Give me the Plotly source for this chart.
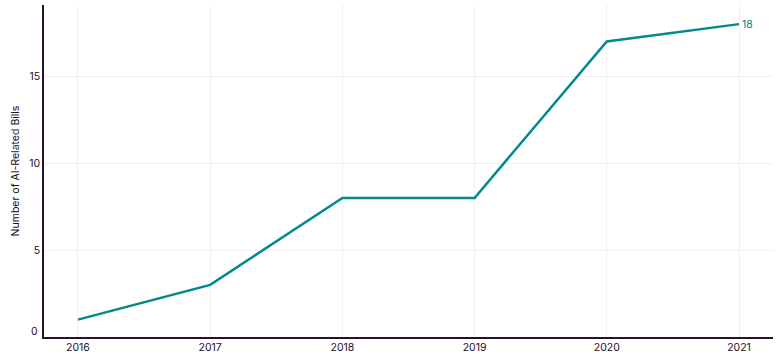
import plotly.graph_objects as go

years = [2016, 2017, 2018, 2019, 2020, 2021]
bills = [1, 3, 8, 8, 17, 18]
y_ticks = [0, 5, 10, 15]

line_color = "#008a8c"
text_color = "#1e0f1e"
font_family = "Inter, Liberation Sans, sans-serif"

fig = go.Figure()
fig.add_trace(go.Scatter(
    x=years, y=bills, mode="lines",
    line=dict(color=line_color, width=2.5),
    showlegend=False, hoverinfo="x+y",
))
fig.add_annotation(
    x=years[-1], y=bills[-1], text=str(bills[-1]), showarrow=False,
    xanchor="left", yanchor="middle", xshift=1,
    font=dict(color="#007f82", size=10.5, family=font_family),
)
# the zero label sits slightly above the x axis line
fig.add_annotation(
    xref="paper", x=0, y=y_ticks[0], text=str(y_ticks[0]), showarrow=False,
    xanchor="right", yanchor="middle", xshift=-4, yshift=6,
    font=dict(color=text_color, size=10.5, family=font_family),
)

fig.update_layout(
    width=782, height=358,
    margin=dict(l=44, r=9, t=5, b=21),
    paper_bgcolor="white", plot_bgcolor="white",
    font=dict(family=font_family, size=10.5, color=text_color),
    xaxis=dict(
        range=[2015.743, 2021.257], tickvals=years, ticktext=[str(y) for y in years],
        showgrid=True, gridcolor="#f0f0f0", gridwidth=1,
        showline=True, linecolor="#2b0f2b", linewidth=1.5,
        ticks="", zeroline=False, tickfont=dict(size=10.5),
    ),
    yaxis=dict(
        range=[0, 19.1], tickvals=y_ticks, ticktext=["", "5", "10", "15"],
        showgrid=True, gridcolor="#f0f0f0", gridwidth=1,
        showline=True, linecolor="#2b0f2b", linewidth=1.5,
        ticks="", zeroline=False, tickfont=dict(size=10.5),
        title=dict(text="Number of AI-Related Bills", font=dict(size=10.5), standoff=8),
    ),
)

fig.write_html(
    "out.html",
    config={"displayModeBar": False},
    post_script="document.body.style.margin='0';document.body.style.overflow='hidden';",
)
